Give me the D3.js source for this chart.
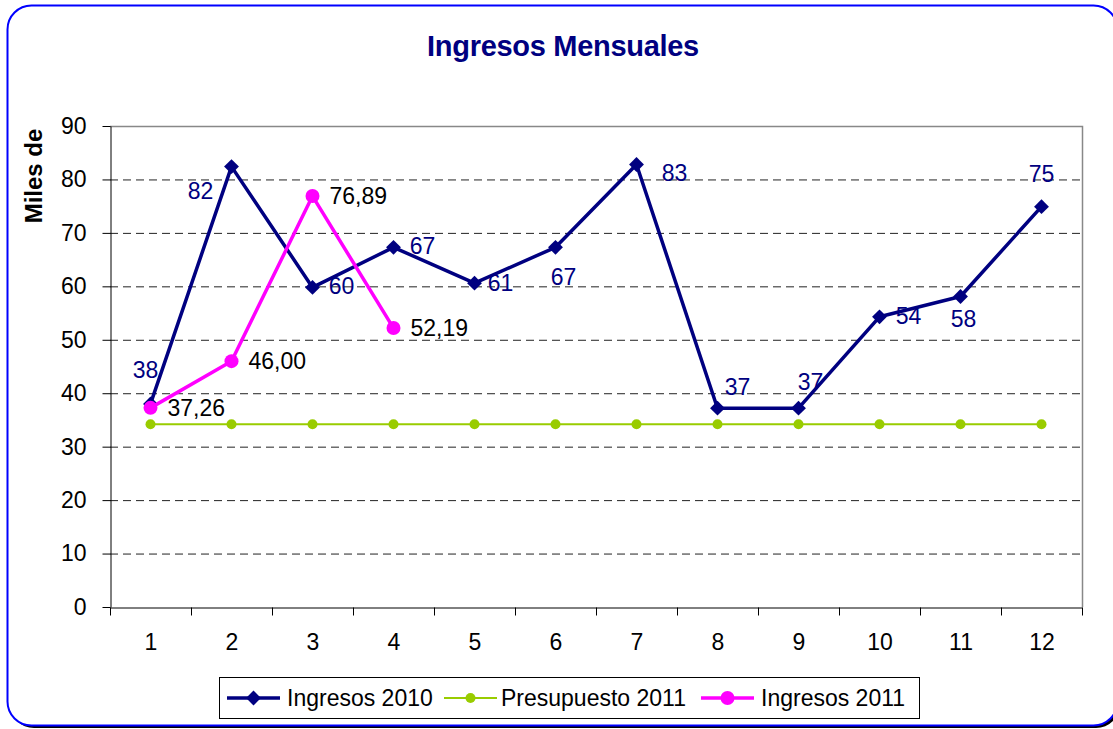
<!DOCTYPE html>
<html lang="es">
<head>
<meta charset="utf-8">
<title>Ingresos Mensuales</title>
<script src="https://cdn.jsdelivr.net/npm/d3@7"></script>
<style>
body { margin: 0; background: #fff; }
svg text { font-family: "Liberation Sans", Arial, sans-serif; }
</style>
</head>
<body>
<script>
// datos
var meses = [1, 2, 3, 4, 5, 6, 7, 8, 9, 10, 11, 12];
var ingresos2010 = [38.0, 82.4, 59.8, 67.3, 60.6, 67.3, 82.8, 37.2, 37.2, 54.3, 58.1, 74.9];
var presupuesto2011 = [34.2, 34.2, 34.2, 34.2, 34.2, 34.2, 34.2, 34.2, 34.2, 34.2, 34.2, 34.2];
var ingresos2011 = [37.26, 46.00, 76.89, 52.19];
var yTicks = [0, 10, 20, 30, 40, 50, 60, 70, 80, 90];
var seriesNames = ["Ingresos 2010", "Presupuesto 2011", "Ingresos 2011"];

// desplazamiento de las etiquetas 2010 (como en el original)
var labelOffsets2010 = [[-5, -34], [-31, 24], [29, -1], [29, -1], [26, 0], [8, 30],
                        [38, 8], [20, -21], [12, -26], [29, -1], [3, 22], [0, -33]];

var W = 1113, H = 729;
var navy = "#000080", green = "#99cc00", magenta = "#ff00ff";

var svg = d3.select("body").append("svg")
  .attr("width", W)
  .attr("height", H);

// marco redondeado con sombra
svg.append("rect")
  .attr("x", 10).attr("y", 8)
  .attr("width", 1110).attr("height", 720)
  .attr("rx", 24)
  .attr("fill", "#000");
svg.append("rect")
  .attr("x", 7.5).attr("y", 5.5)
  .attr("width", 1110).attr("height", 720)
  .attr("rx", 24)
  .attr("fill", "#fff")
  .attr("stroke", "#0000ff")
  .attr("stroke-width", 2);

var plotLeft = 110, plotRight = 1082, plotTop = 126, plotBottom = 607;

var x = d3.scaleLinear().domain([0.5, 12.5]).range([plotLeft, plotRight]);
var y = d3.scaleLinear().domain([0, 90]).range([plotBottom, plotTop]);

// titulo
svg.append("text")
  .attr("x", 563).attr("y", 56)
  .attr("text-anchor", "middle")
  .attr("font-size", "29px")
  .attr("font-weight", "bold")
  .attr("fill", navy)
  .attr("letter-spacing", "-0.3px")
  .text("Ingresos Mensuales");

// titulo eje y
svg.append("text")
  .attr("transform", "translate(42,176) rotate(-90)")
  .attr("text-anchor", "middle")
  .attr("font-size", "24px")
  .attr("font-weight", "bold")
  .attr("fill", "#000")
  .text("Miles de");

// lineas de cuadricula
svg.append("g")
  .selectAll("line")
  .data(yTicks.filter(function(d) { return d > 0 && d < 90; }))
  .enter()
  .append("line")
  .attr("x1", plotLeft).attr("x2", plotRight)
  .attr("y1", function(d) { return y(d) + 0.5; })
  .attr("y2", function(d) { return y(d) + 0.5; })
  .attr("stroke", "#222")
  .attr("stroke-width", 1)
  .attr("stroke-dasharray", "8,5");

// borde superior y derecho en gris
svg.append("path")
  .attr("d", "M" + plotLeft + "," + (plotTop + 0.5) + "H" + (plotRight + 0.5) + "V" + plotBottom)
  .attr("fill", "none")
  .attr("stroke", "#888")
  .attr("stroke-width", 1.5);

// eje y
var yAxis = svg.append("g")
  .attr("transform", "translate(" + (plotLeft + 0.5) + ",0)")
  .call(d3.axisLeft(y).tickValues(yTicks).tickSize(8).tickPadding(16).tickSizeOuter(0));
yAxis.selectAll("text").attr("font-size", "23px").attr("fill", "#000").style("font-family", "'Liberation Sans', Arial, sans-serif");
yAxis.selectAll("line, path").attr("stroke", "#000");

// eje x: marcas entre categorias
var xTickBounds = meses.map(function(d) { return d - 0.5; }).concat([12.5]);
var xAxis = svg.append("g")
  .attr("transform", "translate(0," + (plotBottom + 0.5) + ")")
  .call(d3.axisBottom(x).tickValues(xTickBounds).tickFormat("").tickSize(8).tickSizeOuter(0));
xAxis.selectAll("line, path").attr("stroke", "#000");

var xLabels = svg.append("g")
  .attr("transform", "translate(0," + (plotBottom + 0.5) + ")")
  .call(d3.axisBottom(x).tickValues(meses).tickFormat(d3.format("d")).tickSize(0).tickPadding(26));
xLabels.select(".domain").remove();
xLabels.selectAll("text").attr("font-size", "23px").attr("fill", "#000").style("font-family", "'Liberation Sans', Arial, sans-serif");

var line = d3.line()
  .x(function(d, i) { return x(meses[i]); })
  .y(function(d) { return y(d); });

var diamond = d3.symbol().type(d3.symbolSquare).size(110);

// Ingresos 2010
svg.append("path")
  .datum(ingresos2010)
  .attr("d", line)
  .attr("fill", "none")
  .attr("stroke", navy)
  .attr("stroke-width", 3.5)
  .attr("stroke-linejoin", "round");
svg.append("g")
  .selectAll("path")
  .data(ingresos2010)
  .enter()
  .append("path")
  .attr("d", diamond)
  .attr("transform", function(d, i) {
    return "translate(" + x(meses[i]) + "," + y(d) + ") rotate(45)";
  })
  .attr("fill", navy);

// Presupuesto 2011
svg.append("path")
  .datum(presupuesto2011)
  .attr("d", line)
  .attr("fill", "none")
  .attr("stroke", green)
  .attr("stroke-width", 2);
svg.append("g")
  .selectAll("circle")
  .data(presupuesto2011)
  .enter()
  .append("circle")
  .attr("cx", function(d, i) { return x(meses[i]); })
  .attr("cy", function(d) { return y(d); })
  .attr("r", 5)
  .attr("fill", green);

// Ingresos 2011
svg.append("path")
  .datum(ingresos2011)
  .attr("d", line)
  .attr("fill", "none")
  .attr("stroke", magenta)
  .attr("stroke-width", 3.5)
  .attr("stroke-linejoin", "round");
svg.append("g")
  .selectAll("circle")
  .data(ingresos2011)
  .enter()
  .append("circle")
  .attr("cx", function(d, i) { return x(meses[i]); })
  .attr("cy", function(d) { return y(d); })
  .attr("r", 7)
  .attr("fill", magenta);

// etiquetas de datos
svg.append("g")
  .selectAll("text")
  .data(ingresos2010)
  .enter()
  .append("text")
  .attr("x", function(d, i) { return x(meses[i]) + labelOffsets2010[i][0]; })
  .attr("y", function(d, i) { return y(d) + labelOffsets2010[i][1]; })
  .attr("dy", "0.35em")
  .attr("text-anchor", "middle")
  .attr("font-size", "23px")
  .attr("fill", navy)
  .text(function(d) { return Math.round(d); });

var esLocale = d3.formatLocale({ decimal: ",", thousands: ".", grouping: [3], currency: ["", ""] });
var fmt2 = esLocale.format(".2f");

svg.append("g")
  .selectAll("text")
  .data(ingresos2011)
  .enter()
  .append("text")
  .attr("x", function(d, i) { return x(meses[i]) + 17; })
  .attr("y", function(d) { return y(d); })
  .attr("dy", "0.35em")
  .attr("font-size", "23px")
  .attr("fill", "#000")
  .text(function(d) { return fmt2(d); });

// leyenda
var legend = svg.append("g");
legend.append("rect")
  .attr("x", 219.5).attr("y", 677.5)
  .attr("width", 700).attr("height", 41)
  .attr("fill", "#fff")
  .attr("stroke", "#000")
  .attr("stroke-width", 1);

var legendItems = [
  { name: seriesNames[0], color: navy, x0: 227, width: 3.5, marker: "diamond", text: 287 },
  { name: seriesNames[1], color: green, x0: 444, width: 2, marker: "small", text: 501 },
  { name: seriesNames[2], color: magenta, x0: 701, width: 3.5, marker: "circle", text: 761 }
];
var ly = 698;
legendItems.forEach(function(it) {
  legend.append("line")
    .attr("x1", it.x0).attr("x2", it.x0 + 53)
    .attr("y1", ly).attr("y2", ly)
    .attr("stroke", it.color)
    .attr("stroke-width", it.width);
  var cx = it.x0 + 26.5;
  if (it.marker === "diamond") {
    legend.append("path")
      .attr("d", diamond)
      .attr("transform", "translate(" + cx + "," + ly + ") rotate(45)")
      .attr("fill", it.color);
  } else {
    legend.append("circle")
      .attr("cx", cx).attr("cy", ly)
      .attr("r", it.marker === "small" ? 5 : 7)
      .attr("fill", it.color);
  }
  legend.append("text")
    .attr("x", it.text).attr("y", ly)
    .attr("dy", "0.35em")
    .attr("font-size", "23px")
    .attr("fill", "#000")
    .text(it.name);
});
</script>
</body>
</html>
